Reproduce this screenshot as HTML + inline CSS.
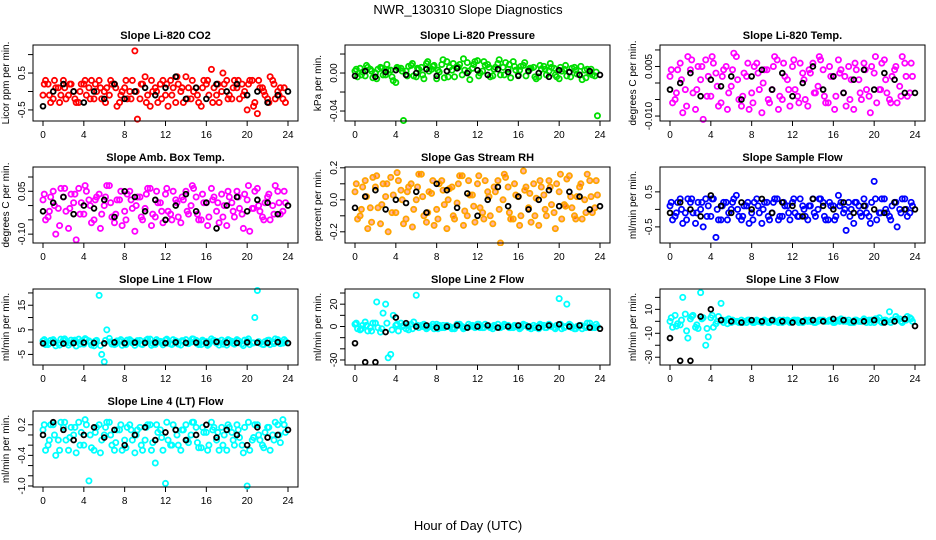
<!DOCTYPE html>
<html><head><meta charset="utf-8"><style>
html,body{margin:0;padding:0;background:#fff;width:936px;height:540px;overflow:hidden}
svg{display:block;font-family:"Liberation Sans",sans-serif}
</style></head><body>
<svg id="chart" width="936" height="540" xmlns="http://www.w3.org/2000/svg">
<text x="468" y="14" text-anchor="middle" font-size="13">NWR_130310  Slope Diagnostics</text>
<text x="468" y="530" text-anchor="middle" font-size="13">Hour of Day (UTC)</text>
</svg>
<script>
const xTicks=[0,4,8,12,16,20,24];
const titles=["Slope Li-820 CO2","Slope Li-820 Pressure","Slope Li-820 Temp.","Slope Amb. Box Temp.","Slope Gas Stream RH","Slope Sample Flow","Slope Line 1 Flow","Slope Line 2 Flow","Slope Line 3 Flow","Slope Line 4 (LT) Flow"];
const yLabels=["Licor ppm per min.","kPa per min.","degrees C per min.","degrees C per min.","percent per min.","ml/min per min.","ml/min per min.","ml/min per min.","ml/min per min.","ml/min per min."];
const yTicks=[[1.0,0.5,0,-0.5],[0.02,0,-0.02,-0.04],[0.01,0.005,0,-0.005,-0.01],[0.1,0.05,0,-0.05,-0.1],[0.2,0.1,0,-0.1,-0.2],[0.5,0,-0.5],[20,15,10,5,0,-5],[30,20,10,0,-10,-20,-30],[20,10,0,-10,-20,-30],[0.2,0,-0.2,-0.4,-0.6,-0.8,-1.0]];
const yTickLabels=[["","0.5","","-0.5"],["","0.00","","-0.04"],["","0.005","","","-0.010"],["","0.05","","","-0.10"],["0.2","","0.0","","-0.2"],["0.5","","-0.5"],["","15","","5","","-5"],["","20","","0","","","-30"],["","10","","-10","","-30"],["0.2","","","-0.4","","","-1.0"]];
const yLims=[[1.26,-0.8],[0.0295,-0.0505],[0.0115,-0.0115],[0.135,-0.131],[0.205,-0.27],[1.21,-0.96],[21.6,-9.3],[33.6,-34.5],[27,-36.5],[0.47,-1.02]];
const colors=["#ff0000","#00dd00","#ff00ff","#ff00ff","#ffa500","#0000ff","#00ffff","#00ffff","#00ffff","#00ffff"];
const fills=["none","none","none","none","rgba(255,40,0,0.35)","none","none","none","none","none"];
const seriesA=[
[-0.1,0.2,-0.2,0.1,0.3,-0.1,0.0,-0.3,0.2,0.1,-0.2,0.3,0.0,-0.1,0.2,-0.3,0.1,0.0,1.1,-0.2,0.4,-0.4,0.1,0.2,-0.1,0.3,-0.3,0.0,0.4,-0.2,0.1,-0.4,0.2,0.6,-0.1,0.0,0.3,-0.2,0.1,0.2,-0.5,0.3,-0.6,0.1,-0.2,0.3,0.0,-0.2],
[0.002,0.005,-0.003,0.004,0.0,0.006,-0.002,0.003,-0.01,0.005,0.002,0.008,-0.004,0.006,0.01,0.004,-0.006,0.009,0.012,0.003,0.007,-0.002,0.011,0.005,0.013,0.002,0.009,-0.003,0.01,0.006,0.004,0.012,-0.002,0.008,0.003,0.006,-0.004,0.007,0.002,0.005,-0.006,0.004,0.001,0.006,-0.002,0.003,0.0,-0.003],
[0.002,-0.005,0.006,-0.002,0.004,-0.008,0.001,0.007,-0.004,0.003,-0.006,0.005,-0.001,0.008,-0.007,0.002,-0.003,0.006,-0.009,0.004,-0.002,0.007,-0.005,0.001,0.005,-0.004,0.003,-0.007,0.006,-0.001,0.004,-0.006,0.002,0.007,-0.003,0.005,-0.008,0.001,0.006,-0.004,0.003,-0.002,0.007,-0.005,0.004,-0.001,0.006,-0.003],
[0.02,-0.04,0.05,-0.01,0.03,-0.08,0.01,0.06,-0.03,0.02,-0.05,0.04,0.0,0.07,-0.06,0.02,-0.02,0.05,-0.09,0.03,-0.01,0.06,-0.04,0.01,0.04,-0.03,0.02,-0.06,0.05,0.0,0.03,-0.05,0.01,0.06,-0.02,0.04,-0.07,0.01,0.05,-0.03,0.02,-0.01,0.06,-0.04,0.03,0.0,0.05,-0.02],
[0.05,-0.1,0.12,-0.05,0.08,-0.15,0.02,0.14,-0.08,0.06,-0.12,0.1,0.0,0.16,-0.14,0.04,-0.06,0.12,-0.18,0.08,-0.02,0.15,-0.1,0.03,0.1,-0.08,0.05,-0.15,0.12,0.0,0.08,-0.12,0.02,0.18,-0.05,0.1,-0.16,0.03,0.12,-0.08,0.05,-0.03,0.15,-0.1,0.08,0.0,0.12,-0.05],
[0.1,-0.2,0.3,-0.1,0.2,-0.4,0.0,0.3,-0.2,-0.8,-0.3,0.2,0.0,0.4,-0.3,0.1,-0.1,0.3,-0.4,0.2,-0.1,0.3,-0.2,0.1,0.2,-0.2,0.1,-0.3,0.3,0.0,0.2,-0.3,0.1,0.4,-0.1,0.2,-0.4,0.1,0.3,-0.2,0.8,-0.1,0.3,-0.2,0.2,0.0,0.3,-0.1],
[0.5,-1,1,-0.5,0.8,-1.2,0.3,1.2,-0.8,0.5,-1.5,19,-8,1.5,-1,0.4,-0.6,1,-1.3,0.7,-0.2,1.2,-0.9,0.3,0.8,-0.7,0.5,-1.2,1,0,0.7,-1,0.2,1.3,-0.4,0.8,-1.2,0.3,1,-0.7,0.5,-0.3,21,-0.9,0.7,0,1,-0.4],
[2,-3,4,-1,3,-5,20,-25,1,3,-2,2,28,1,-2,0,2,-1,1,-2,2,0,-1,1,2,-1,1,-2,2,0,1,-1,0,2,-1,1,-2,1,2,-1,25,-1,2,-2,1,0,3,-1],
[0,5,-3,6,2,-5,24,-20,3,-2,15,1,-1,0,1,-1,0,1,-1,0,1,0,-1,1,0,1,-1,0,1,0,1,0,-1,1,0,1,-1,0,2,1,-1,3,1,8,0,2,1,3],
[0.1,-0.2,0.2,-0.1,0.15,-0.3,0.0,0.25,-0.2,-0.9,-0.3,0.2,0.0,0.25,-0.3,0.1,-0.1,0.2,-0.35,0.15,-0.1,0.2,-0.55,0.1,-0.95,-0.2,0.1,-0.3,0.2,0.0,0.15,-0.25,0.05,0.25,-0.1,0.15,-0.3,0.05,0.2,-0.2,-1.0,-0.1,0.2,-0.2,0.15,0.0,0.2,0.3]];
const seriesB=[
[0.3,-0.3,0.1,-0.1,-0.2,0.2,-0.3,0.2,-0.1,0.3,0.0,-0.2,0.1,0.2,-0.4,0.0,-0.2,0.3,-0.75,0.2,-0.1,0.0,-0.3,0.3,-0.4,0.1,0.2,-0.3,0.1,0.0,-0.3,0.3,-0.1,0.1,-0.3,0.2,-0.1,0.3,-0.2,0.0,0.3,-0.3,0.1,-0.1,0.4,-0.2,0.1,-0.3],
[-0.004,0.001,0.006,-0.005,0.004,-0.002,0.003,-0.008,0.005,-0.05,0.007,-0.003,0.004,-0.006,0.002,0.008,0.001,-0.005,0.006,-0.004,0.009,0.003,-0.007,0.012,0.0,0.008,-0.004,0.006,-0.002,0.011,-0.005,0.003,0.007,-0.003,0.005,-0.006,0.004,-0.002,0.006,-0.004,0.002,-0.003,0.005,-0.001,-0.007,0.004,-0.002,-0.045],
[-0.006,0.004,-0.009,0.008,-0.003,0.005,-0.011,0.002,0.006,-0.007,0.004,-0.003,0.009,-0.005,0.003,-0.008,0.005,-0.002,0.004,-0.006,0.008,-0.004,0.002,-0.007,-0.002,0.006,-0.005,0.003,-0.003,0.007,-0.006,0.002,-0.004,0.004,-0.007,0.001,0.004,-0.005,-0.002,0.005,-0.006,0.006,-0.003,0.002,-0.006,0.008,-0.004,0.002],
[-0.05,0.03,-0.10,0.06,-0.02,0.04,-0.12,0.01,0.05,-0.06,0.03,-0.03,0.07,-0.04,0.02,-0.07,0.04,-0.01,0.03,-0.05,0.06,-0.03,0.01,-0.06,-0.02,0.05,-0.04,0.02,-0.03,0.06,-0.05,0.01,-0.04,0.03,-0.06,0.0,0.03,-0.04,-0.01,0.04,-0.09,0.05,-0.02,0.01,-0.05,0.07,-0.03,0.01],
[-0.12,0.08,-0.18,0.14,-0.05,0.1,-0.2,0.03,0.12,-0.15,0.08,-0.06,0.16,-0.1,0.05,-0.16,0.1,-0.03,0.07,-0.12,0.15,-0.07,0.03,-0.14,-0.05,0.12,-0.1,0.05,-0.27,0.14,-0.12,0.03,-0.1,0.08,-0.14,0.01,0.08,-0.1,-0.03,0.1,-0.12,0.13,-0.05,0.02,-0.12,0.16,-0.08,0.03],
[-0.3,0.2,-0.4,0.3,-0.1,0.2,-0.5,0.1,0.3,-0.3,0.2,-0.1,0.3,-0.2,0.1,-0.4,0.2,-0.1,0.2,-0.3,0.3,-0.2,0.1,-0.3,-0.1,0.3,-0.2,0.1,-0.2,0.3,-0.3,0.1,-0.2,0.2,-0.6,0.0,0.2,-0.2,-0.1,0.2,-0.3,0.3,-0.1,0.1,-0.5,0.3,-0.2,0.1],
[-1,0.7,-1.5,1.2,-0.4,0.8,-1.6,0.3,1,-1.2,0.7,-5,5,-0.8,0.5,-1.3,0.8,-0.3,0.6,-1,1.2,-0.6,0.3,-1.1,-0.4,1,-0.8,0.4,-0.6,1.2,-1,0.3,-0.8,0.7,-1.2,0.1,0.7,-0.8,-0.3,0.8,-1,10,-0.4,0.2,-1,1.3,-0.6,0.3],
[-2,1,-4,3,-1,12,-28,10,-4,1,-3,4,-1,2,0,-2,1,-1,0,-2,2,-1,0,-1,-1,2,-1,0,-1,1,-1,0,-1,1,-2,0,1,-1,0,1,-2,20,-1,0,-2,3,-1,0],
[-5,-2,20,-14,5,-6,3,-13,-5,4,-1,2,0,-1,0,1,-1,0,1,-1,0,1,0,-1,1,0,1,0,-1,1,0,1,0,2,0,-1,1,0,-1,1,2,-1,0,1,2,-1,4,0],
[-0.3,0.2,-0.4,0.25,-0.1,0.15,-0.35,0.05,0.2,-0.25,0.15,-0.1,0.25,-0.2,0.1,-0.3,0.15,-0.1,0.1,-0.3,0.2,-0.15,0.05,-0.3,-0.1,0.2,-0.2,0.1,-0.15,0.25,-0.25,0.05,-0.2,0.15,-0.3,0.0,0.15,-0.2,-0.05,0.15,-0.3,0.2,-0.1,0.05,-0.3,0.25,-0.15,0.05]];
const seriesC=[
[0.2,-0.1,0.3,-0.3,0.1,0.2,-0.2,0.0,0.3,-0.2,0.2,0.1,-0.3,0.3,0.1,-0.1,0.3,-0.2,0.0,0.2,-0.3,0.3,0.0,-0.2,0.2,-0.1,0.4,0.1,-0.2,0.3,-0.1,0.1,0.3,-0.3,0.2,0.5,-0.2,0.1,0.3,-0.1,0.2,-0.4,0.3,0.0,-0.3,0.2,-0.1,0.1],
[0.004,-0.002,0.008,0.002,-0.006,0.005,0.009,-0.004,0.006,0.002,-0.003,0.01,0.005,-0.002,0.012,0.007,0.003,0.014,-0.004,0.01,0.006,0.015,0.002,0.009,-0.003,0.012,0.006,0.004,0.014,-0.002,0.009,0.007,0.003,0.011,0.005,-0.004,0.008,0.004,0.01,-0.002,0.006,0.008,-0.004,0.003,0.007,-0.005,0.004,0.001],
[0.004,-0.003,0.001,-0.007,0.007,-0.002,0.005,-0.004,0.008,-0.001,0.002,-0.008,0.004,0.001,-0.004,0.006,-0.006,0.003,0.0,-0.005,0.005,-0.008,0.006,-0.002,0.007,-0.006,0.001,0.004,-0.003,0.008,-0.004,0.005,-0.008,0.003,0.002,-0.005,0.006,-0.003,0.004,-0.009,0.008,-0.002,0.001,-0.006,0.005,-0.004,0.002,0.006],
[0.04,-0.02,0.0,-0.07,0.06,-0.01,0.04,-0.03,0.07,0.0,0.02,-0.08,0.03,0.01,-0.03,0.05,-0.05,0.02,0.0,-0.04,0.04,-0.07,0.05,-0.02,0.06,-0.05,0.01,0.03,-0.02,0.07,-0.03,0.04,-0.07,0.02,0.01,-0.04,0.05,-0.02,0.03,-0.08,0.07,-0.01,0.0,-0.05,0.04,-0.03,0.01,0.05],
[0.1,-0.06,0.02,-0.14,0.15,-0.03,0.1,-0.08,0.17,0.0,0.05,-0.17,0.08,0.02,-0.08,0.12,-0.12,0.06,0.0,-0.1,0.1,-0.16,0.12,-0.04,0.15,-0.12,0.02,0.08,-0.06,0.16,-0.08,0.1,-0.16,0.06,0.04,-0.1,0.12,-0.06,0.08,-0.18,0.16,-0.04,0.02,-0.12,0.1,-0.08,0.02,0.12],
[0.2,-0.1,0.0,-0.3,0.3,-0.1,0.2,-0.2,0.3,0.0,0.1,-0.3,0.2,0.0,-0.2,0.2,-0.3,0.1,0.0,-0.2,0.2,-0.3,0.2,-0.1,0.3,-0.2,0.0,0.1,-0.1,0.3,-0.2,0.2,-0.3,0.1,0.0,-0.2,0.2,-0.1,0.1,-0.4,0.3,-0.1,0.0,-0.3,0.2,-0.1,0.0,0.2],
[1,-0.5,0.2,-1.2,1.3,-0.3,0.8,-0.8,1.4,0,0.4,-1.4,0.7,0.1,-0.7,1,-1,0.5,0,-0.8,0.8,-1.3,1,-0.3,1.2,-1,0.2,0.6,-0.5,1.3,-0.7,0.8,-1.3,0.5,0.3,-0.8,1,-0.5,0.6,-1.4,1.3,-0.3,0.2,-1,0.8,-0.6,0.2,1],
[3,-2,1,-4,22,-2,3,-3,2,0,1,-2,1,0,-1,2,-2,1,0,-1,1,-2,2,0,2,-1,0,1,-1,2,-1,1,-2,1,0,-1,2,-1,1,-2,2,0,1,-2,1,-1,0,2],
[3,-4,1,-8,4,-3,2,-6,5,0,1,-2,1,0,-1,1,-1,0,0,-1,1,-1,1,0,1,-1,0,1,-1,1,0,1,-1,0,1,-1,1,0,1,-1,2,0,1,-1,4,0,1,2],
[0.2,-0.1,0.0,-0.3,0.25,-0.05,0.15,-0.2,0.3,0.0,0.05,-0.35,0.15,0.0,-0.15,0.2,-0.25,0.1,0.0,-0.2,0.15,-0.3,0.2,-0.05,0.25,-0.2,0.0,0.1,-0.1,0.25,-0.15,0.15,-0.3,0.1,0.05,-0.2,0.2,-0.1,0.1,-0.35,0.25,-0.05,0.0,-0.25,0.15,-0.1,0.0,0.2]];
const seriesBlack=[
[-0.4,0.0,0.2,0.0,-0.3,0.0,-0.2,0.2,-0.2,0.0,0.1,-0.1,0.1,0.4,-0.2,0.1,-0.2,0.2,0.0,0.2,-0.1,0.0,-0.3,-0.1,0.0],
[-0.003,0.002,-0.004,0.001,0.003,-0.002,0.0,0.004,-0.003,0.002,0.005,0.0,0.003,-0.002,0.004,0.001,-0.003,0.002,0.0,-0.004,0.003,0.001,-0.002,0.002,-0.002],
[-0.002,0.0,0.003,-0.004,0.001,-0.001,0.002,-0.005,0.002,0.004,-0.002,0.003,-0.004,0.0,0.005,-0.002,0.002,-0.003,0.001,0.004,-0.002,0.003,0.001,-0.003,-0.003],
[-0.02,0.01,0.03,-0.03,0.0,-0.01,0.02,-0.04,0.05,0.03,-0.02,0.02,-0.05,0.0,0.04,-0.02,0.01,-0.08,0.0,0.03,-0.02,0.02,0.01,-0.03,0.0],
[-0.05,0.02,0.06,-0.06,0.0,-0.02,0.05,-0.08,0.1,0.06,-0.05,0.04,-0.1,0.0,0.08,-0.04,0.02,-0.06,0.0,0.06,-0.04,0.05,0.02,-0.06,-0.04],
[-0.1,0.2,0.0,-0.2,0.4,0.1,-0.1,0.2,0.0,0.3,-0.1,0.2,0.1,-0.2,0.3,0.1,0.0,0.2,-0.1,0.1,0.0,-0.1,0.2,0.0,0.0],
[-0.5,-0.3,-0.6,-0.4,-0.2,-0.3,-0.5,-0.1,-0.4,-0.2,-0.3,-0.2,-0.4,-0.1,-0.3,-0.2,-0.3,0.1,-0.2,-0.3,-0.1,-0.2,-0.3,0.0,-0.4],
[-15,-32,-32,-5,8,3,0,1,-1,0,1,-1,0,1,-1,0,1,0,-1,1,2,0,1,-1,-2],
[-14,-33,-33,4,10,1,0,-1,1,0,1,0,-1,0,1,0,2,1,0,0,1,-1,0,2,-4],
[0.0,0.25,0.1,-0.1,0.0,0.15,-0.05,0.1,-0.2,0.0,0.15,-0.1,0.05,0.1,-0.1,0.0,0.2,-0.05,0.1,0.0,-0.2,0.15,-0.05,0.0,0.1]];

const NS="http://www.w3.org/2000/svg";
const svg=document.getElementById('chart');
const lefts=[33,345,660], tops=[45,167,289,411], W=265, H=76;
function mk(tag,attrs,parent){const e=document.createElementNS(NS,tag);for(const k in attrs)e.setAttribute(k,attrs[k]);parent.appendChild(e);return e;}
titles.forEach((t,p)=>{
  const L=lefts[p%3], T=tops[Math.floor(p/3)];
  const g=mk('g',{},svg);
  
  
  const xs=h=>L+10+h/24*245;
  const [y0,y1]=yLims[p];
  const ys=v=>T+(y0-v)/(y0-y1)*H;
  const tt=mk('text',{x:L+W/2,y:T-6,'text-anchor':'middle','font-size':'11','font-weight':'bold'},g);
  tt.textContent=t;
  
  
  const yl=mk('text',{transform:`translate(${L-24},${T+H/2}) rotate(-90)`,'text-anchor':'middle','font-size':'10'},g);
  yl.textContent=yLabels[p];
  
  
  xTicks.forEach(h=>{
    mk('line',{x1:xs(h),x2:xs(h),y1:T+H,y2:T+H+5,stroke:'#000'},g);
    const tx=mk('text',{x:xs(h),y:T+H+17,'text-anchor':'middle','font-size':'10'},g);
    tx.textContent=h;
    
    
  });
  yTicks[p].forEach((v,i)=>{
    mk('line',{x1:L-5,x2:L,y1:ys(v),y2:ys(v),stroke:'#000'},g);
    const lb=yTickLabels[p][i];
    if(lb){const ty=mk('text',{transform:`translate(${L-8},${ys(v)}) rotate(-90)`,'text-anchor':'middle','font-size':'10'},g);
      ty.textContent=lb;
      
      }
  });
  const pts=mk('g',{'stroke-width':'1.8'},g);
  
  
  const clipId='c'+p;
  const cp=mk('clipPath',{id:clipId},svg);mk('rect',{x:L,y:T-3,width:W,height:H+6},cp);
  pts.setAttribute('clip-path',`url(#${clipId})`);
  [[seriesA,0],[seriesB,0.25],[seriesC,0.125]].forEach(([S,off])=>{
    S[p].forEach((v,i)=>{const c=mk('circle',{cx:xs(i*0.5+off),cy:ys(v),r:2.6,stroke:colors[p],fill:fills[p]},pts);
      
      });
  });
  seriesBlack[p].forEach((v,i)=>{const c=mk('circle',{cx:xs(i),cy:ys(v),r:2.4,stroke:'#000',fill:'none'},pts);
    
    });
  const box=mk('rect',{x:L,y:T,width:W,height:H,fill:'none',stroke:'#000'},g);
  
  
});
</script>
</body></html>
